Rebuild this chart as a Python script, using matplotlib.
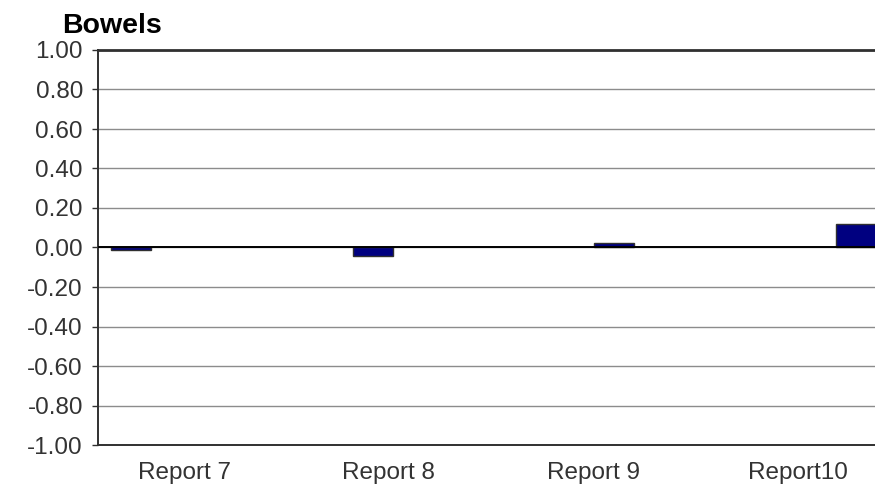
import matplotlib.pyplot as plt
import numpy as np

plt.rcParams["font.family"] = ["Liberation Sans", "DejaVu Sans"]

reports = ["Report 7", "Report 8", "Report 9", "Report10"]
values = [-0.012, -0.045, 0.025, 0.12]
yticks = [-1.0, -0.8, -0.6, -0.4, -0.2, 0.0, 0.2, 0.4, 0.6, 0.8, 1.0]

fig = plt.figure(figsize=(8.75, 4.94), dpi=100)
ax = fig.add_axes([98 / 875, 49 / 494, 1 - 98 / 875, 395 / 494])

x = np.arange(len(reports))
ax.bar(x, values, width=0.165, color="#000080", edgecolor="#303030",
       linewidth=1.0, zorder=3)

ax.set_xlim(-0.1365, 3.078)
ax.set_ylim(-1.0, 1.0)

for y in yticks:
    ax.axhline(y, color="#8c8c8c", linewidth=1.0, zorder=1)
ax.axhline(0, color="#000000", linewidth=1.4, zorder=4)

ax.set_yticks(yticks)
ax.set_yticklabels([f"{v:.2f}" for v in yticks])
ax.set_xticks(x * 0.846 + 0.221)
ax.set_xticklabels(reports)

ax.tick_params(axis="y", length=4.3, width=1.0, color="#303030", pad=6.5,
               labelsize=17.5, labelcolor="#333333")
ax.tick_params(axis="x", length=0, pad=12, labelsize=17.5, labelcolor="#333333")

for side in ["left", "top", "bottom"]:
    ax.spines[side].set_color("#303030")
    ax.spines[side].set_linewidth(1.4)
ax.spines["top"].set_linewidth(2.0)
ax.spines["right"].set_visible(False)

fig.text(62 / 875, 1 - 33 / 494, "Bowels", fontsize=20.5, fontweight="bold",
         ha="left", va="baseline", color="#000000")

fig.savefig("out.png", dpi=100)
